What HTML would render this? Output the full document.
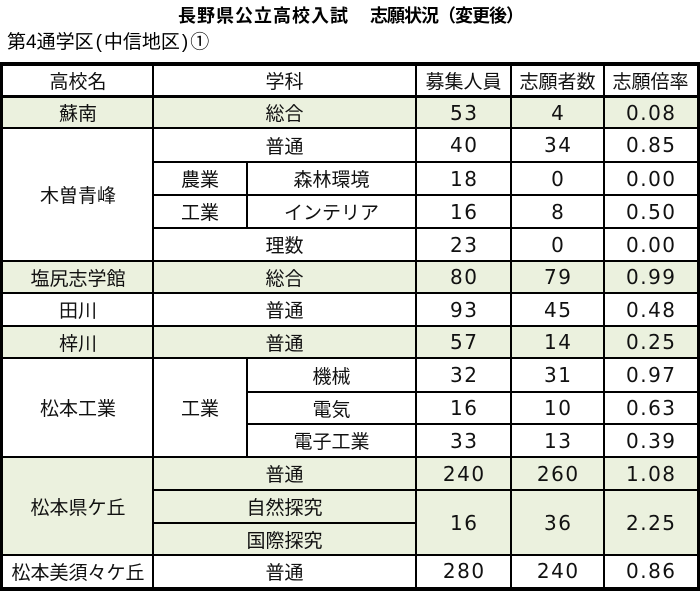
<!DOCTYPE html>
<html><head><meta charset="utf-8"><style>
*{margin:0;padding:0;box-sizing:border-box}
body{width:700px;height:591px;background:#fff;position:relative;overflow:hidden;font-family:"Liberation Sans","Noto Sans CJK JP",sans-serif;color:#000}
.t{position:absolute;top:3px;font-weight:bold;font-size:18px;line-height:24px;white-space:nowrap;font-family:"Noto Sans CJK JP",sans-serif}
.s{position:absolute;left:7px;top:31px;font-size:19px;line-height:24px;white-space:nowrap;font-family:"Liberation Sans","Noto Sans CJK JP",sans-serif}
.s i{font-style:normal;margin:0 2px}
.c{position:absolute;display:flex;align-items:center;justify-content:center;font-family:"Noto Sans CJK JP",sans-serif;font-size:19px;line-height:1;white-space:nowrap;color:#111}
.n{font-family:"DejaVu Sans",sans-serif;font-size:20px;letter-spacing:1.5px;padding-left:1.5px}
.g{position:absolute;left:0;width:700px;background:#ebf1de}
.h{position:absolute;background:#000;height:2px}
.v{position:absolute;background:#000;width:2px}
.o{position:absolute;left:0;top:62px;width:700px;height:529px;border-style:solid;border-color:#000;border-width:4px 3px 4px 3px}
</style></head><body>
<div class="t" style="left:178px;letter-spacing:1px">長野県公立高校入試</div>
<div class="t" style="left:370px;letter-spacing:-1px">志願状況（変更後）</div>
<div class="s">第4通学区<i>(</i>中信地区<i>)</i>①</div>

<!-- green backgrounds -->
<div class="g" style="top:97px;height:31px"></div>
<div class="g" style="top:261px;height:32px"></div>
<div class="g" style="top:326px;height:32px"></div>
<div class="g" style="top:457px;height:98px"></div>

<!-- header -->
<div class="c" style="left:3px;top:64px;width:150px;height:33px">高校名</div>
<div class="c" style="left:153px;top:64px;width:263px;height:33px">学科</div>
<div class="c" style="left:416px;top:64px;width:95px;height:33px">募集人員</div>
<div class="c" style="left:511px;top:64px;width:93px;height:33px">志願者数</div>
<div class="c" style="left:604px;top:64px;width:93px;height:33px">志願倍率</div>

<!-- 蘇南 -->
<div class="c" style="left:3px;top:97px;width:150px;height:31px">蘇南</div>
<div class="c" style="left:153px;top:97px;width:263px;height:31px">総合</div>
<div class="c n" style="left:416px;top:97px;width:95px;height:31px">53</div>
<div class="c n" style="left:511px;top:97px;width:93px;height:31px">4</div>
<div class="c n" style="left:604px;top:97px;width:93px;height:31px">0.08</div>

<!-- 木曽青峰 -->
<div class="c" style="left:3px;top:128px;width:150px;height:133px">木曽青峰</div>
<div class="c" style="left:153px;top:128px;width:263px;height:34px">普通</div>
<div class="c n" style="left:416px;top:128px;width:95px;height:34px">40</div>
<div class="c n" style="left:511px;top:128px;width:93px;height:34px">34</div>
<div class="c n" style="left:604px;top:128px;width:93px;height:34px">0.85</div>

<div class="c" style="left:153px;top:162px;width:94px;height:33px">農業</div>
<div class="c" style="left:247px;top:162px;width:169px;height:33px">森林環境</div>
<div class="c n" style="left:416px;top:162px;width:95px;height:33px">18</div>
<div class="c n" style="left:511px;top:162px;width:93px;height:33px">0</div>
<div class="c n" style="left:604px;top:162px;width:93px;height:33px">0.00</div>

<div class="c" style="left:153px;top:195px;width:94px;height:33px">工業</div>
<div class="c" style="left:247px;top:195px;width:169px;height:33px">インテリア</div>
<div class="c n" style="left:416px;top:195px;width:95px;height:33px">16</div>
<div class="c n" style="left:511px;top:195px;width:93px;height:33px">8</div>
<div class="c n" style="left:604px;top:195px;width:93px;height:33px">0.50</div>

<div class="c" style="left:153px;top:228px;width:263px;height:33px">理数</div>
<div class="c n" style="left:416px;top:228px;width:95px;height:33px">23</div>
<div class="c n" style="left:511px;top:228px;width:93px;height:33px">0</div>
<div class="c n" style="left:604px;top:228px;width:93px;height:33px">0.00</div>

<!-- 塩尻志学館 -->
<div class="c" style="left:3px;top:261px;width:150px;height:32px">塩尻志学館</div>
<div class="c" style="left:153px;top:261px;width:263px;height:32px">総合</div>
<div class="c n" style="left:416px;top:261px;width:95px;height:32px">80</div>
<div class="c n" style="left:511px;top:261px;width:93px;height:32px">79</div>
<div class="c n" style="left:604px;top:261px;width:93px;height:32px">0.99</div>

<!-- 田川 -->
<div class="c" style="left:3px;top:293px;width:150px;height:33px">田川</div>
<div class="c" style="left:153px;top:293px;width:263px;height:33px">普通</div>
<div class="c n" style="left:416px;top:293px;width:95px;height:33px">93</div>
<div class="c n" style="left:511px;top:293px;width:93px;height:33px">45</div>
<div class="c n" style="left:604px;top:293px;width:93px;height:33px">0.48</div>

<!-- 梓川 -->
<div class="c" style="left:3px;top:326px;width:150px;height:32px">梓川</div>
<div class="c" style="left:153px;top:326px;width:263px;height:32px">普通</div>
<div class="c n" style="left:416px;top:326px;width:95px;height:32px">57</div>
<div class="c n" style="left:511px;top:326px;width:93px;height:32px">14</div>
<div class="c n" style="left:604px;top:326px;width:93px;height:32px">0.25</div>

<!-- 松本工業 -->
<div class="c" style="left:3px;top:358px;width:150px;height:99px">松本工業</div>
<div class="c" style="left:153px;top:358px;width:94px;height:99px">工業</div>
<div class="c" style="left:247px;top:358px;width:169px;height:34px">機械</div>
<div class="c n" style="left:416px;top:358px;width:95px;height:34px">32</div>
<div class="c n" style="left:511px;top:358px;width:93px;height:34px">31</div>
<div class="c n" style="left:604px;top:358px;width:93px;height:34px">0.97</div>

<div class="c" style="left:247px;top:392px;width:169px;height:32px">電気</div>
<div class="c n" style="left:416px;top:392px;width:95px;height:32px">16</div>
<div class="c n" style="left:511px;top:392px;width:93px;height:32px">10</div>
<div class="c n" style="left:604px;top:392px;width:93px;height:32px">0.63</div>

<div class="c" style="left:247px;top:424px;width:169px;height:33px">電子工業</div>
<div class="c n" style="left:416px;top:424px;width:95px;height:33px">33</div>
<div class="c n" style="left:511px;top:424px;width:93px;height:33px">13</div>
<div class="c n" style="left:604px;top:424px;width:93px;height:33px">0.39</div>

<!-- 松本県ケ丘 -->
<div class="c" style="left:3px;top:457px;width:150px;height:98px">松本県ケ丘</div>
<div class="c" style="left:153px;top:457px;width:263px;height:33px">普通</div>
<div class="c n" style="left:416px;top:457px;width:95px;height:33px">240</div>
<div class="c n" style="left:511px;top:457px;width:93px;height:33px">260</div>
<div class="c n" style="left:604px;top:457px;width:93px;height:33px">1.08</div>
<div class="c" style="left:153px;top:490px;width:263px;height:33px">自然探究</div>
<div class="c" style="left:153px;top:523px;width:263px;height:32px">国際探究</div>
<div class="c n" style="left:416px;top:490px;width:95px;height:65px">16</div>
<div class="c n" style="left:511px;top:490px;width:93px;height:65px">36</div>
<div class="c n" style="left:604px;top:490px;width:93px;height:65px">2.25</div>

<!-- 松本美須々ケ丘 -->
<div class="c" style="left:3px;top:555px;width:150px;height:32px">松本美須々ケ丘</div>
<div class="c" style="left:153px;top:555px;width:263px;height:32px">普通</div>
<div class="c n" style="left:416px;top:555px;width:95px;height:32px">280</div>
<div class="c n" style="left:511px;top:555px;width:93px;height:32px">240</div>
<div class="c n" style="left:604px;top:555px;width:93px;height:32px">0.86</div>

<!-- horizontal lines -->
<div class="h" style="left:0;top:95px;width:700px;height:3px"></div>
<div class="h" style="left:0;top:127px;width:700px"></div>
<div class="h" style="left:153px;top:161px;width:547px"></div>
<div class="h" style="left:153px;top:194px;width:547px"></div>
<div class="h" style="left:153px;top:227px;width:547px"></div>
<div class="h" style="left:0;top:260px;width:700px"></div>
<div class="h" style="left:0;top:292px;width:700px"></div>
<div class="h" style="left:0;top:325px;width:700px"></div>
<div class="h" style="left:0;top:357px;width:700px"></div>
<div class="h" style="left:247px;top:391px;width:453px"></div>
<div class="h" style="left:247px;top:423px;width:453px"></div>
<div class="h" style="left:0;top:456px;width:700px"></div>
<div class="h" style="left:153px;top:489px;width:547px"></div>
<div class="h" style="left:153px;top:522px;width:263px"></div>
<div class="h" style="left:0;top:554px;width:700px"></div>

<!-- vertical lines -->
<div class="v" style="left:152px;top:62px;height:529px"></div>
<div class="v" style="left:415px;top:62px;height:529px"></div>
<div class="v" style="left:510px;top:62px;height:529px"></div>
<div class="v" style="left:603px;top:62px;height:529px"></div>
<div class="v" style="left:246px;top:161px;height:67px"></div>
<div class="v" style="left:246px;top:357px;height:100px"></div>

<div class="o"></div>
</body></html>
